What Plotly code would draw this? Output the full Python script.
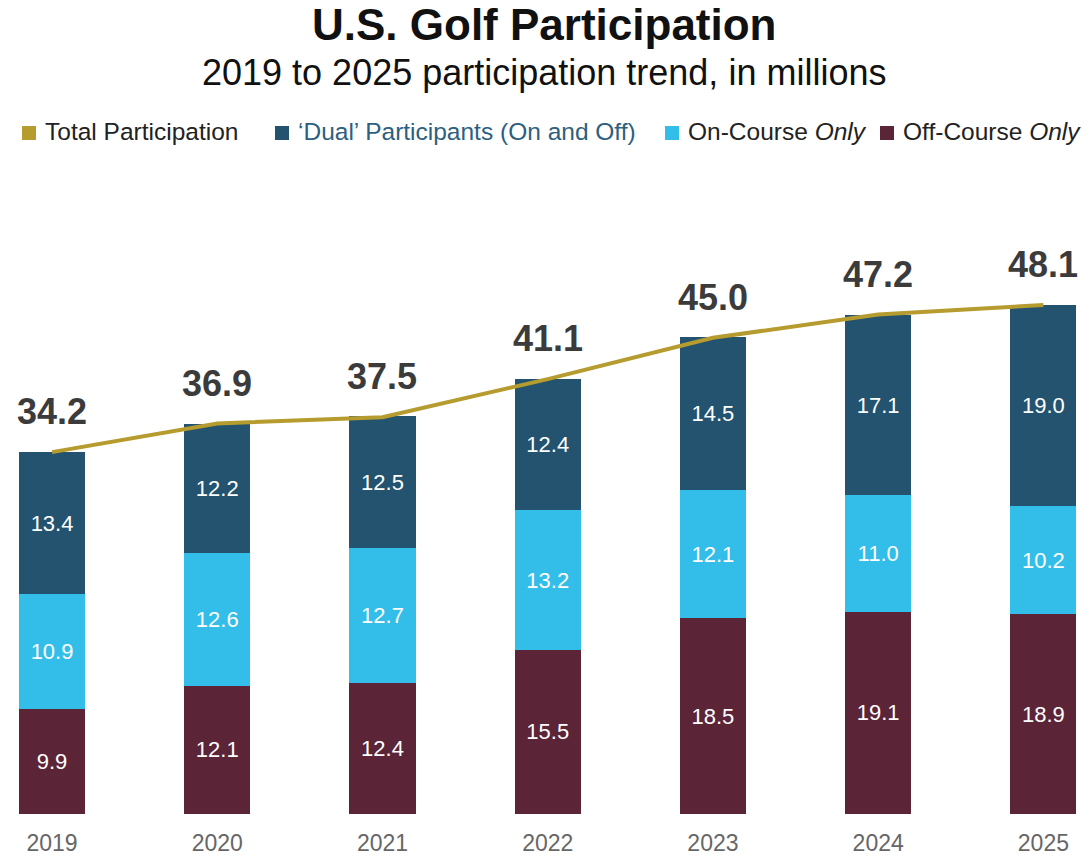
import plotly.graph_objects as go

years = ["2019", "2020", "2021", "2022", "2023", "2024", "2025"]
off_course = [9.9, 12.1, 12.4, 15.5, 18.5, 19.1, 18.9]
on_course = [10.9, 12.6, 12.7, 13.2, 12.1, 11.0, 10.2]
dual = [13.4, 12.2, 12.5, 12.4, 14.5, 17.1, 19.0]
total = [34.2, 36.9, 37.5, 41.1, 45.0, 47.2, 48.1]

C_GOLD = "#b69b2e"
C_DUAL = "#23536f"
C_ON = "#33bde9"
C_OFF = "#5c2437"

W, H = 1088, 857
MT, MB = 232, 43
FONT = "Liberation Sans"

xs = list(range(len(years)))

def py(p):
    return (H - MB - p) / (H - MT - MB)

def px(p):
    return p / W

fig = go.Figure()
for name, vals, col in [("Off-Course Only", off_course, C_OFF),
                        ("On-Course Only", on_course, C_ON),
                        ("'Dual' Participants (On and Off)", dual, C_DUAL)]:
    fig.add_trace(go.Bar(
        x=xs, y=vals, name=name, marker=dict(color=col, line=dict(width=0)),
        width=0.4, text=[f"{v:.1f}" for v in vals], textposition="inside",
        insidetextanchor="middle", textangle=0,
        textfont=dict(color="white", size=22, family=FONT),
        hoverinfo="skip"))

fig.add_trace(go.Scatter(x=xs, y=total, mode="lines", name="Total Participation",
                         line=dict(color=C_GOLD, width=4), hoverinfo="skip"))

annotations = []
for x, t in zip(xs, total):
    annotations.append(dict(x=x, y=t, xref="x", yref="y", text=f"<b>{t:.1f}</b>",
                            showarrow=False, yanchor="bottom", yshift=18,
                            font=dict(size=36, color="#3b3b3b", family=FONT)))

annotations.append(dict(x=0.5, y=py(25), xref="paper", yref="paper", yanchor="middle",
                        text="<b>U.S. Golf Participation</b>", showarrow=False,
                        font=dict(size=44, color="#111111", family=FONT)))
annotations.append(dict(x=0.5, y=py(72), xref="paper", yref="paper", yanchor="middle",
                        text="2019 to 2025 participation trend, in millions", showarrow=False,
                        font=dict(size=36, color="#111111", family=FONT)))

shapes = []
legend_items = [
    (22, C_GOLD, "Total Participation", "#222222"),
    (275, C_DUAL, "‘Dual’ Participants (On and Off)", "#2d5f80"),
    (665, C_ON, "On-Course <i>Only</i>", "#222222"),
    (880, C_OFF, "Off-Course <i>Only</i>", "#222222"),
]
for x0, col, label, tcol in legend_items:
    shapes.append(dict(type="rect", xref="paper", yref="paper",
                       x0=px(x0), x1=px(x0 + 14), y0=py(140), y1=py(126),
                       fillcolor=col, line=dict(width=0)))
    annotations.append(dict(x=px(x0 + 21), y=py(132), xref="paper", yref="paper",
                            xanchor="left", yanchor="middle", showarrow=False,
                            text=label,
                            font=dict(size=24.5, color=tcol, family=FONT)))

fig.update_layout(
    width=W, height=H,
    margin=dict(l=0, r=0, t=MT, b=MB),
    barmode="stack", showlegend=False,
    plot_bgcolor="white", paper_bgcolor="white",
    annotations=annotations, shapes=shapes,
    xaxis=dict(range=[-0.315, 6.27], tickvals=xs, ticktext=years, showgrid=False,
               zeroline=False, showline=False, ticks="", ticklabelstandoff=13,
               tickfont=dict(size=23, color="#666666", family=FONT)),
    yaxis=dict(range=[0, 55], visible=False),
    uniformtext=dict(minsize=22, mode="show"),
)

fig.write_html("out.html")
